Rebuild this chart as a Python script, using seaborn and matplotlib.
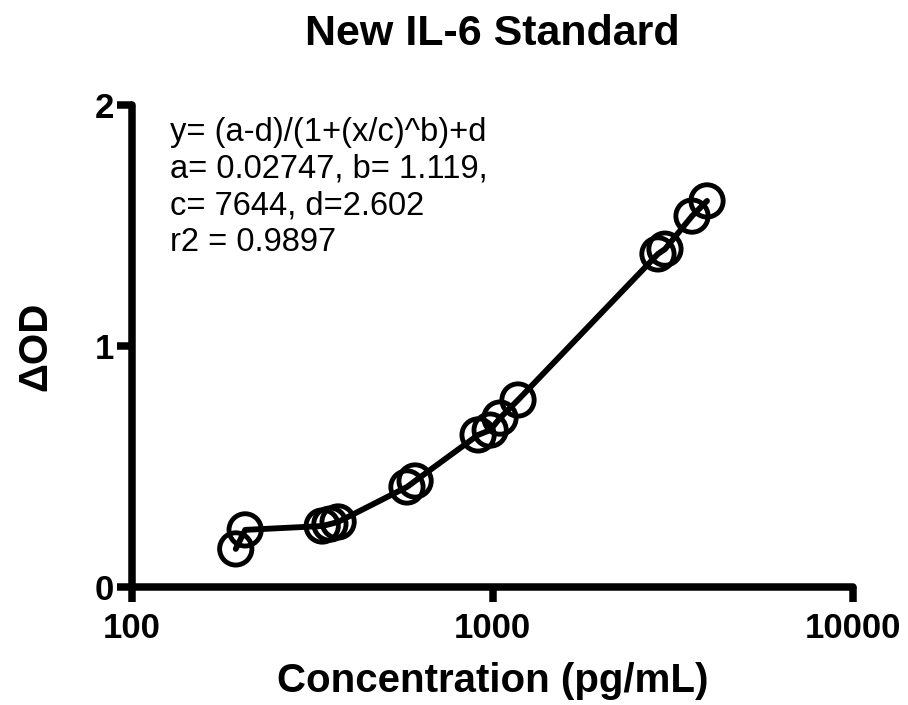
import numpy as np
import pandas as pd
import matplotlib
matplotlib.use("Agg")
import matplotlib.pyplot as plt
import seaborn as sns

# --- data (replicate wells) ---
conc = [194, 206, 337, 354, 373, 579, 610, 912, 985, 1049, 1177, 2877, 3009, 3576, 3936]
delta_od = [0.158, 0.237, 0.253, 0.261, 0.270, 0.415, 0.440, 0.631, 0.651, 0.701,
            0.776, 1.382, 1.402, 1.539, 1.602]

x_ticks = [100, 1000, 10000]
y_ticks = [0, 1, 2]

title = "New IL-6 Standard"
x_label = "Concentration (pg/mL)"
y_label = "\u0394OD"
fit_text = ("y= (a-d)/(1+(x/c)^b)+d\n"
            "a= 0.02747, b= 1.119,\n"
            "c= 7644, d=2.602\n"
            "r2 = 0.9897")

df = pd.DataFrame({"conc": conc, "od": delta_od})

sns.set_style("ticks", {"axes.edgecolor": "black", "text.color": "black",
                        "xtick.color": "black", "ytick.color": "black",
                        "axes.labelcolor": "black"})
plt.rcParams["font.family"] = ["Liberation Sans", "DejaVu Sans"]

fig = plt.figure(figsize=(9.08, 7.05), dpi=100)
ax = fig.add_axes([132 / 908, 118 / 705, 721 / 908, 482 / 705])

# line through the points, then open circle markers
sns.lineplot(data=df, x="conc", y="od", ax=ax, color="black", linewidth=4.2,
             estimator=None, sort=True)
sns.scatterplot(data=df, x="conc", y="od", ax=ax, s=540, facecolors="none",
                edgecolor="black", linewidth=3.5, zorder=3)

ax.set_xscale("log")
ax.set_xlim(100, 10000)
ax.set_ylim(0, 2)
ax.set_xticks(x_ticks)
ax.set_xticklabels([str(t) for t in x_ticks])
ax.set_yticks(y_ticks)
ax.set_yticklabels([str(t) for t in y_ticks])
ax.minorticks_off()

for side in ["top", "right"]:
    ax.spines[side].set_visible(False)
for side in ["left", "bottom"]:
    ax.spines[side].set_linewidth(5.4)
    ax.spines[side].set_color("black")
    ax.spines[side].set_capstyle("round")

ax.tick_params(axis="both", width=5.4, length=11, direction="out", color="black",
               labelcolor="black", labelsize=25)
ax.tick_params(axis="x", pad=7)
ax.tick_params(axis="y", pad=2)
for lab in ax.get_xticklabels() + ax.get_yticklabels():
    lab.set_fontweight("bold")

ax.set_xlabel(x_label, fontsize=29, fontweight="bold", color="black")
ax.set_ylabel(y_label, fontsize=29, fontweight="bold", color="black")
ax.xaxis.set_label_coords(0.5, -0.155)
ax.yaxis.set_label_coords(-0.108, 0.5)
ax.set_title(title, fontsize=31, fontweight="bold", pad=43, color="black")

fig.text(170 / 908, 1 - 117 / 705, fit_text, fontsize=23.5, va="top", ha="left",
         linespacing=1.24, color="black")

fig.savefig("out.png", dpi=100, facecolor="white")
